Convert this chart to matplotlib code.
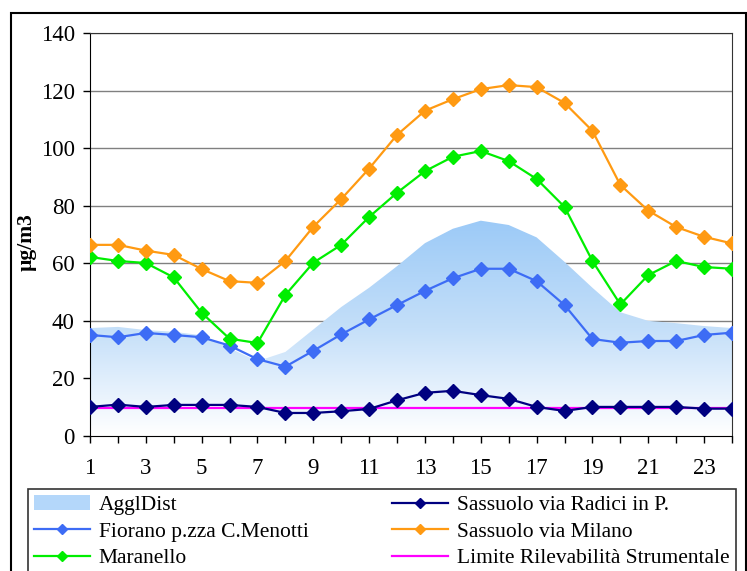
import numpy as np
import matplotlib
matplotlib.use('Agg')
import matplotlib.pyplot as plt
from matplotlib.colors import LinearSegmentedColormap
from matplotlib.patches import Patch, Rectangle
from matplotlib.lines import Line2D

plt.rcParams['font.family'] = ['Liberation Serif', 'DejaVu Serif']

# dati orari
ore = list(range(1, 25))
aggl_dist = [37.5, 37.9, 36.8, 36.2, 35.0, 30.5, 26.0, 29.2, 37.0, 44.8, 51.5, 59.0,
             67.0, 72.0, 74.8, 73.3, 69.0, 60.5, 51.5, 43.0, 40.0, 39.2, 38.2, 37.5]
fiorano = [35.1, 34.3, 35.8, 35.1, 34.3, 31.4, 26.7, 24.1, 29.6, 35.3, 40.5, 45.5,
           50.4, 54.8, 58.1, 58.1, 53.8, 45.5, 33.7, 32.4, 33.0, 33.0, 35.1, 35.9]
maranello = [62.2, 60.8, 60.1, 55.1, 42.8, 33.8, 32.3, 49.0, 60.2, 66.4, 76.1, 84.5,
             92.0, 97.0, 99.0, 95.5, 89.3, 79.6, 60.8, 45.7, 55.9, 60.8, 58.7, 58.1]
radici = [10.1, 10.9, 10.1, 10.8, 10.8, 10.8, 10.1, 8.0, 8.0, 8.6, 9.4, 12.4,
          15.0, 15.7, 14.2, 12.9, 10.1, 8.7, 10.1, 10.1, 10.1, 10.1, 9.5, 9.5]
milano = [66.4, 66.4, 64.4, 62.9, 58.0, 53.8, 53.2, 60.8, 72.7, 82.3, 92.9, 104.6,
          113.0, 117.0, 120.5, 121.9, 121.2, 115.7, 106.0, 87.2, 78.3, 72.6, 69.2, 66.9]
limite = [9.7] * 24

fig = plt.figure(figsize=(7.47, 5.71), dpi=100)
ax = fig.add_axes([90 / 747, 1 - 436 / 571, 642 / 747, 403 / 571])

# area con sfumatura
poly = ax.fill_between(ore, aggl_dist, 0, facecolor='none', edgecolor='none')
cmap = LinearSegmentedColormap.from_list('agg', ['#ffffff', '#c4dff9', '#9ccaf7'])
grad = np.linspace(0, 1, 256).reshape(-1, 1)
im = ax.imshow(grad, extent=[1, 24, 0, max(aggl_dist)], origin='lower', cmap=cmap,
               aspect='auto', zorder=1)
im.set_clip_path(poly.get_paths()[0], transform=ax.transData)

lw = 1.6
ms = 7
ax.plot(ore, limite, color='#ff00ff', lw=lw, zorder=3)
ax.plot(ore, radici, color='#000080', lw=lw, marker='D', ms=ms, zorder=4)
ax.plot(ore, fiorano, color='#3d6cf5', lw=lw, marker='D', ms=ms, zorder=4)
ax.plot(ore, maranello, color='#00ee00', lw=lw, marker='D', ms=ms, zorder=4)
ax.plot(ore, milano, color='#ff9a12', lw=lw, marker='D', ms=ms, zorder=4)

ax.set_xlim(1, 24)
ax.set_ylim(0, 140)
ax.set_yticks(range(0, 141, 20))
ax.set_xticks(ore)
ax.set_xticklabels([str(h) if h % 2 == 1 else '' for h in ore])
ax.yaxis.grid(True, color='#808080', lw=1.0, zorder=0)
ax.set_axisbelow(True)
ax.tick_params(axis='both', labelsize=16.5, length=5, width=1, direction='out')
ax.tick_params(axis='x', pad=11)
ax.tick_params(axis='y', pad=6)
for s in ['top', 'right']:
    ax.spines[s].set_color('#333333')
ax.set_ylabel('µg/m3', fontsize=15.5, fontweight='bold')
ax.yaxis.set_label_coords(-0.083, 0.48)

# cornice esterna
fig.patches.append(Rectangle((11 / 747, -0.1), 735 / 747, 1.1 - 13 / 571, transform=fig.transFigure,
                             fill=False, edgecolor='black', lw=1.5))

handles = [
    Patch(facecolor='#b4d7fa', edgecolor='none'),
    Line2D([], [], color='#3d6cf5', lw=lw, marker='D', ms=5),
    Line2D([], [], color='#00ee00', lw=lw, marker='D', ms=5),
    Line2D([], [], color='#000080', lw=lw, marker='D', ms=5),
    Line2D([], [], color='#ff9a12', lw=lw, marker='D', ms=5),
    Line2D([], [], color='#ff00ff', lw=lw),
]
labels = ['AgglDist', 'Fiorano p.zza C.Menotti', 'Maranello',
          'Sassuolo via Radici in P.', 'Sassuolo via Milano', 'Limite Rilevabilità Strumentale']
leg = fig.legend(handles, labels, ncol=2, loc='upper left', bbox_to_anchor=(28 / 747, 1 - 489 / 571),
                 frameon=True, fancybox=False, edgecolor='black', fontsize=15.5,
                 handlelength=2.6, handletextpad=0.4, columnspacing=3.9,
                 labelspacing=0.3, borderpad=0.28, borderaxespad=0)
leg.get_frame().set_linewidth(1.2)

fig.savefig('out.png', dpi=100)
